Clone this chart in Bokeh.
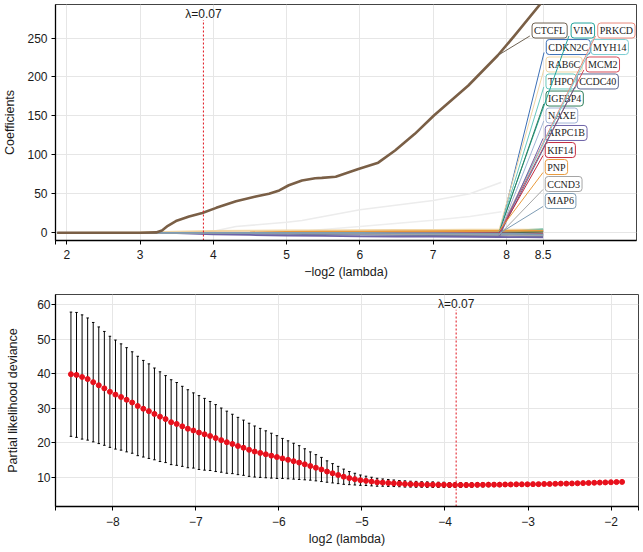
import math
import numpy as np
from bokeh.plotting import figure
from bokeh.layouts import column
from bokeh.models import ColumnDataSource, FixedTicker, Whisker, TeeHead
from bokeh.core.properties import value
from bokeh.embed import file_html
from bokeh.resources import INLINE

# ---------------- data ----------------
lambda_min = 0.0686

# coefficient paths (top panel), x = -log2(lambda)
path_x = [1.87, 3.0, 3.5, 4.0, 4.5, 5.0, 5.5, 6.0, 6.5, 7.0, 7.5, 7.9, 8.2, 8.5]

ctcfl_x = [1.87, 3.0, 3.22, 3.3, 3.38, 3.49, 3.67, 3.85, 4.04, 4.31, 4.58, 4.76, 4.90, 5.03, 5.21,
           5.39, 5.48, 5.67, 5.98, 6.25, 6.48, 6.75, 7.01, 7.48, 7.88, 8.11, 8.5]
ctcfl_y = [0, 0, 0.5, 3, 9, 15, 21, 25.5, 32, 40.5, 46.6, 50, 54.3, 61, 67,
           70, 70.5, 72, 82, 90, 105.6, 127, 150.5, 189, 227.5, 253, 298]

faint1_x = [3.9, 4.31, 5.0, 5.21, 6.0, 7.0, 7.5, 7.93]
faint1_y = [0, 8, 13.6, 15.8, 29.5, 41.5, 50, 65]
faint2_x = [4.6, 5.2, 6.0, 7.0, 7.5, 7.93]
faint2_y = [0, 2, 8, 16, 21, 27]

genes = ["VIM", "PRKCD", "CDKN2C", "MYH14", "RAB6C", "MCM2", "THPO", "CCDC40",
         "IGFBP4", "NAXE", "ARPC1B", "KIF14", "PNP", "CCND3", "MAP6"]
gene_colors = ["#23a59c", "#e98a7c", "#3b6fb6", "#79cdd2", "#f0d5a4", "#d54b57", "#69c8be",
               "#5b6794", "#2f7f5c", "#a2b5d6", "#6e63a7", "#c42a3f", "#e89a3c", "#a5a5a5", "#7e9cb4"]
gene_paths = [
    [0, 0, 0, 0, 0, 0, 0, 0, 0.5, 1, 1.5, 2, 3.5, 4.5],
    [0, 0, 0, 0, 0, 0, 0, 0, 0, 0.3, 0.6, 1, 1.5, 2],
    [0, 0, 0, 0, 0, 0, -0.3, -0.6, -1, -1.3, -1.6, -2, -2.5, -3],
    [0, 0, 0, 0, 0, 0, 0, 0, 0, 0.2, 0.4, 0.6, 1.2, 2.5],
    [0, 0.5, 1.5, 2.5, 2.8, 3, 3.2, 3.4, 3.6, 3.8, 3.9, 4, 4, 4],
    [0, 0, 0, 0, 0, 0, 0, 0, 0.2, 0.4, 0.6, 0.8, 1.2, 1.6],
    [0, 0, 0, 0, 0, 0, 0, 0.2, 0.4, 0.6, 0.8, 1, 2.5, 4],
    [0, 0, 0, -0.5, -1, -1.5, -2, -2.4, -2.8, -3, -3.2, -3.4, -3.8, -4.2],
    [0, 0, 0, 0, 0, 0, 0, 0, 0, 0, 0, 0.3, 0.8, 1.5],
    [0, 0, 0, 0, 0, -0.2, -0.4, -0.6, -0.8, -1, -1.2, -1.4, -1.8, -2.2],
    [0, 0, -0.5, -2, -2.8, -3.5, -4, -4.5, -4.8, -5, -5.2, -5.4, -5.6, -5.8],
    [0, 0, 0, 0, 0, 0, 0, 0, 0, 0, -0.2, -0.5, -1, -1.5],
    [0, 0, 0, 0.3, 0.6, 1, 1.3, 1.6, 1.9, 2.1, 2.3, 2.5, 2.6, 2.7],
    [0, 0, 0, 0, -0.3, -0.6, -1, -1.4, -1.8, -2.1, -2.4, -2.7, -3, -3.3],
    [0, 0, 0, 0, 0, 0, 0, -0.2, -0.4, -0.6, -0.8, -1, -1.5, -2],
]

# label anchors (layout of the repelled labels), in data units
label_names = ["CTCFL", "VIM", "PRKCD", "CDKN2C", "MYH14", "RAB6C", "MCM2", "THPO", "CCDC40",
               "IGFBP4", "NAXE", "ARPC1B", "KIF14", "PNP", "CCND3", "MAP6"]
label_x = [8.349, 8.882, 9.245, 8.543, 9.154, 8.539, 9.086, 8.539, 8.964,
           8.539, 8.539, 8.529, 8.529, 8.529, 8.529, 8.529]
label_y = [259.6, 259.6, 259.6, 238.4, 238.4, 216.0, 216.0, 194.2, 194.2,
           172.3, 150.5, 128.1, 106.2, 84.4, 62.6, 40.8]
ctcfl_color = "#6e6252"

# cross-validation (bottom panel)
log2_lambda = np.linspace(-8.504, -1.868, 100)
cvm = [39.8, 39.6, 39.0, 38.4, 37.5, 36.6, 35.7, 34.7, 33.9, 33.2,
       32.4, 31.6, 30.6, 29.8, 29.1, 28.3, 27.5, 26.8, 25.9, 25.4,
       24.7, 24.0, 23.5, 22.9, 22.4, 21.9, 21.3, 20.7, 20.1, 19.6,
       19.0, 18.5, 17.9, 17.4, 17.0, 16.6, 16.2, 15.8, 15.4, 15.0,
       14.6, 14.2, 13.7, 13.2, 12.7, 12.2, 11.6, 11.1, 10.6, 10.1,
       9.7, 9.4, 9.1, 8.9, 8.7, 8.5, 8.4, 8.3, 8.2, 8.1,
       8.0, 7.95, 7.9, 7.85, 7.8, 7.8, 7.75, 7.75, 7.7, 7.7,
       7.7, 7.7, 7.7, 7.75, 7.75, 7.8, 7.8, 7.8, 7.85, 7.85,
       7.9, 7.9, 7.9, 7.95, 7.95, 8.0, 8.0, 8.05, 8.1, 8.1,
       8.15, 8.2, 8.25, 8.3, 8.35, 8.4, 8.45, 8.5, 8.55, 8.6]
cvsd = [18.0, 18.1, 18.0, 17.7, 17.3, 16.9, 16.5, 16.1, 15.8, 15.4,
        15.1, 14.7, 14.4, 14.0, 13.7, 13.3, 13.0, 12.6, 12.3, 12.0,
        11.6, 11.3, 10.9, 10.7, 10.4, 10.0, 9.7, 9.3, 9.0, 8.6,
        8.3, 8.0, 7.7, 7.4, 7.1, 6.8, 6.5, 6.2, 5.8, 5.5,
        5.2, 4.9, 4.5, 4.1, 3.8, 3.5, 3.1, 2.8, 2.5, 2.2,
        1.9, 1.7, 1.5, 1.35, 1.25, 1.15, 1.05, 1.0, 0.95, 0.9,
        0.9, 0.85, 0.85, 0.8, 0.8, 0.8, 0.75, 0.75, 0.7, 0.7,
        0.7, 0.65, 0.65, 0.6, 0.6, 0.6, 0.55, 0.55, 0.55, 0.5,
        0.5, 0.5, 0.5, 0.45, 0.45, 0.45, 0.45, 0.4, 0.4, 0.4,
        0.4, 0.4, 0.35, 0.35, 0.35, 0.35, 0.35, 0.3, 0.3, 0.3]

top_xticks = [2, 3, 4, 5, 6, 7, 8, 8.5]
top_yticks = [0, 50, 100, 150, 200, 250]
bot_xticks = [-8, -7, -6, -5, -4, -3, -2]
bot_yticks = [10, 20, 30, 40, 50, 60]

# ---------------- styling helpers ----------------
SANS = "Liberation Sans"
TXT = "#1a1a1a"
GRID = "#e6e6e6"
RED = "#e3262f"


def style(p):
    p.outline_line_color = "#444444"
    p.outline_line_width = 1
    for g in (p.xgrid, p.ygrid):
        g.grid_line_color = GRID
        g.grid_line_width = 1
    for ax in (p.xaxis, p.yaxis):
        ax.axis_line_color = "black"
        ax.axis_line_width = 1.3
        ax.major_tick_line_color = "black"
        ax.major_tick_line_width = 1
        ax.major_tick_out = 4
        ax.major_tick_in = 0
        ax.minor_tick_line_color = None
        ax.major_label_text_font = SANS
        ax.major_label_text_font_size = "12px"
        ax.major_label_text_color = TXT
        ax.axis_label_text_font = SANS
        ax.axis_label_text_font_size = "12.5px"
        ax.axis_label_text_font_style = "normal"
        ax.axis_label_text_color = TXT
    p.xaxis.major_label_standoff = 5
    p.xaxis.axis_label_standoff = 3
    p.yaxis.major_label_standoff = 4
    p.yaxis.axis_label_standoff = 7


# ---------------- top panel ----------------
x_lo, x_hi = 1.847, 9.774
p1 = figure(width=640, height=290, x_range=(x_lo, x_hi), y_range=(-9.9, 293),
            output_backend="svg", toolbar_location=None,
            min_border_left=52, min_border_right=4, min_border_top=4, min_border_bottom=50)
style(p1)
p1.xaxis.axis_label = "\u2212log2 (lambda)"
p1.yaxis.axis_label = "Coefficients"
p1.xaxis.ticker = FixedTicker(ticks=[x_lo] + top_xticks)
p1.xaxis.major_label_overrides = {**{t: ("%g" % t) for t in top_xticks}, x_lo: ""}
p1.yaxis.ticker = FixedTicker(ticks=top_yticks)
p1.xgrid.ticker = FixedTicker(ticks=top_xticks)

p1.line(faint1_x, faint1_y, line_color="#ececec", line_width=1.6)
p1.line(faint2_x, faint2_y, line_color="#eeeeee", line_width=1.6)
for path, col in zip(gene_paths, gene_colors):
    p1.line(path_x, path, line_color=col, line_width=1.8)
p1.line(ctcfl_x, ctcfl_y, line_color="#7a5f46", line_width=2.6, line_join="round")

xl = -math.log2(lambda_min)
p1.segment(x0=[xl], y0=[-9.9], x1=[xl], y1=[273], line_color=RED, line_width=1.1, line_dash="2 2")
p1.text(x=[xl], y=[281], text=["\u03bb=%.2f" % lambda_min], text_font=value(SANS),
        text_font_size="12px", text_color=TXT, text_align="center", text_baseline="middle")

label_colors = [ctcfl_color] + gene_colors
lab_src = ColumnDataSource(dict(x=label_x, y=label_y, name=label_names, color=label_colors))
p1.text(x="x", y="y", text="name", source=lab_src, text_font=value("Liberation Serif"),
        text_font_size="10px", text_color="#222222", text_align="left", text_baseline="middle",
        background_fill_color="white", border_line_color="color", border_line_width=1,
        padding=2, border_radius=3)

# connectors from the path ends to the label boxes
i79 = path_x.index(7.9)
seg_x0 = [ctcfl_x[ctcfl_x.index(7.88)]] + [path_x[i79]] * len(genes)
seg_y0 = [ctcfl_y[ctcfl_x.index(7.88)]] + [gp[i79] for gp in gene_paths]
seg_x1 = [lx - 0.03 for lx in label_x]
seg_y1 = [ly - 7 for ly in label_y]
p1.segment(x0=seg_x0, y0=seg_y0, x1=seg_x1, y1=seg_y1, line_color=label_colors, line_width=1)

# ---------------- bottom panel ----------------
bx_lo, bx_hi = -8.69, -1.67
p2 = figure(width=642, height=258, x_range=(bx_lo, bx_hi), y_range=(1.47, 62.9),
            output_backend="svg", toolbar_location=None,
            min_border_left=51, min_border_right=2, min_border_top=4, min_border_bottom=40)
style(p2)
p2.yaxis.major_label_standoff = 1
p2.yaxis.axis_label_standoff = 14
p2.xaxis.major_label_standoff = 6
p2.xaxis.axis_label = "log2 (lambda)"
p2.yaxis.axis_label = "Partial likelihood deviance"
p2.xaxis.ticker = FixedTicker(ticks=[bx_lo] + bot_xticks + [bx_hi])
p2.xaxis.major_label_overrides = {**{t: "\u2212%d" % abs(t) for t in bot_xticks}, bx_lo: "", bx_hi: ""}
p2.yaxis.ticker = FixedTicker(ticks=bot_yticks)
p2.xgrid.ticker = FixedTicker(ticks=bot_xticks)

cv_src = ColumnDataSource(dict(
    x=log2_lambda, m=cvm,
    up=[m + s for m, s in zip(cvm, cvsd)],
    lo=[m - s for m, s in zip(cvm, cvsd)],
))
wh = Whisker(source=cv_src, base="x", upper="up", lower="lo", line_color="black", line_width=1,
             upper_head=TeeHead(size=2.5, line_color="black", line_width=1),
             lower_head=TeeHead(size=2.5, line_color="black", line_width=1))
p2.add_layout(wh)
p2.scatter(x="x", y="m", source=cv_src, size=5, fill_color="#e8101c", line_color="#e8101c")

bl = math.log2(lambda_min)
p2.segment(x0=[bl], y0=[1.47], x1=[bl], y1=[58.5], line_color=RED, line_width=1.1, line_dash="2 2")
p2.text(x=[bl], y=[60.2], text=["\u03bb=%.2f" % lambda_min], text_font=value(SANS),
        text_font_size="12px", text_color=TXT, text_align="center", text_baseline="middle")

layout = column(p1, p2, spacing=0)
open("out.html", "w").write(file_html(layout, INLINE))
